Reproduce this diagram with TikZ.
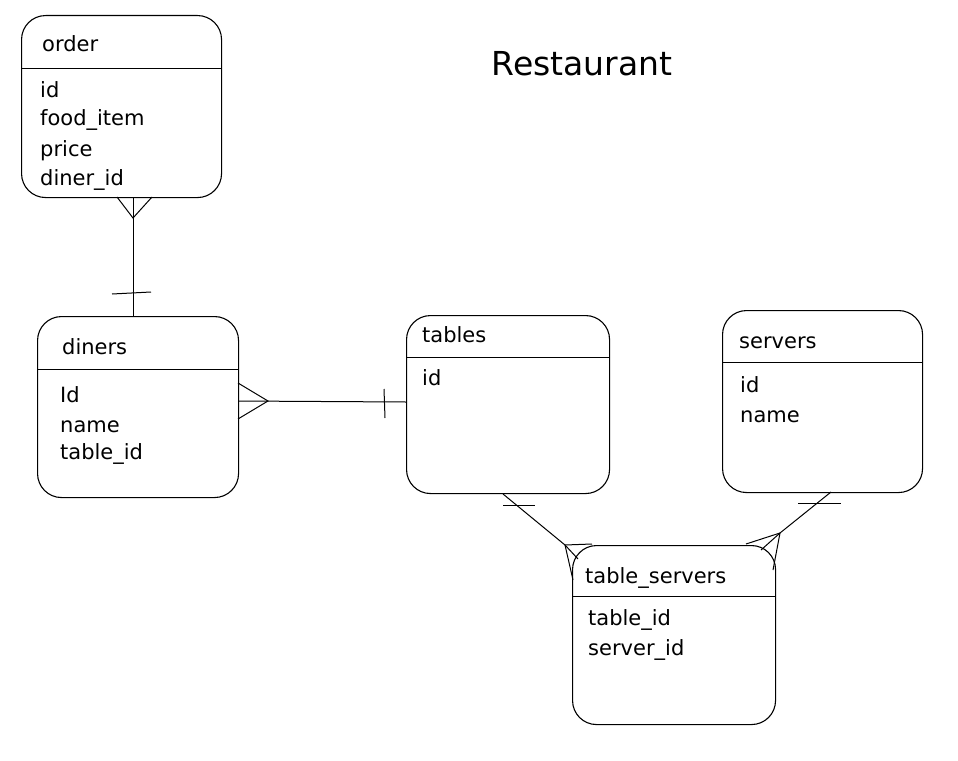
\documentclass[tikz,border=0pt]{standalone}
\usepackage{fontspec}
\setmainfont{DejaVu Sans}
\begin{document}
\begin{tikzpicture}[x=1pt,y=-1pt,
  ent/.style={draw,rounded corners=24pt,line width=1.1pt,anchor=north west,inner sep=0pt},
  lbl/.style={anchor=base west,inner sep=0pt,font=\fontsize{21}{21}\selectfont},
  conn/.style={line width=1pt}]
\useasboundingbox (0,0) rectangle (958,760);
% entities
\node[ent,minimum width=200pt,minimum height=182pt] (order) at (21,15) {};
\node[ent,minimum width=201pt,minimum height=181pt] (diners) at (37,316) {};
\node[ent,minimum width=203pt,minimum height=178pt] (tables) at (406,315) {};
\node[ent,minimum width=200pt,minimum height=182pt] (servers) at (722,310) {};
\node[ent,minimum width=203pt,minimum height=179pt] (ts) at (572,545) {};
% header lines
\draw[line width=1pt] (order.west |- 0,69) -- (order.east |- 0,69);
\draw[line width=1pt] (diners.west |- 0,369) -- (diners.east |- 0,369);
\draw[line width=1pt] (tables.west |- 0,357) -- (tables.east |- 0,357);
\draw[line width=1pt] (servers.west |- 0,362) -- (servers.east |- 0,362);
\draw[line width=1pt] (ts.west |- 0,596) -- (ts.east |- 0,596);
% texts
\node[lbl] (t1) at (42,52) {order};
\node[lbl] (t2) at (40,97) {id};
\node[lbl] (t3) at (40,125) {food\_item};
\node[lbl] (t4) at (40,156) {price};
\node[lbl] (t5) at (40,185) {diner\_id};
\node[lbl] (t6) at (62,354) {diners};
\node[lbl] (t7) at (60,402) {Id};
\node[lbl] (t8) at (60,432) {name};
\node[lbl] (t9) at (60,459) {table\_id};
\node[lbl] (t10) at (422,342) {tables};
\node[lbl] (t11) at (422,385) {id};
\node[lbl] (t12) at (739,348) {servers};
\node[lbl] (t13) at (740,392) {id};
\node[lbl] (t14) at (740,422) {name};
\node[lbl] (t15) at (585,583) {table\_servers};
\node[lbl] (t16) at (588,625) {table\_id};
\node[lbl] (t17) at (588,655) {server\_id};
\node[anchor=base,inner sep=0pt,font=\fontsize{33}{33}\selectfont] (title) at (582,75) {Restaurant};
% order - diners
\coordinate (a1) at (133,197);
\coordinate (a2) at (133,316);
\draw[conn] (a1) -- (a2);
\draw[conn] (117,197) -- (133,218) -- (152,197);
\draw[conn] (112,294) -- (151,292);
% diners - tables
\coordinate (b1) at (238,401);
\coordinate (b2) at (406,402);
\draw[conn] (b1) -- (b2);
\draw[conn] (238,383) -- (268,401) -- (238,419);
\draw[conn] (384,389) -- (385,418);
% tables - table_servers
\coordinate (c1) at (503,494);
\coordinate (c2) at (565,545);
\draw[conn] (c1) -- (c2) -- (578,559);
\draw[conn] (592,544) -- (c2) -- (573,580);
\draw[conn] (503,505) -- (535,505);
% servers - table_servers
\coordinate (d1) at (831,492);
\coordinate (d2) at (780,533);
\draw[conn] (d1) -- (d2) -- (761,550);
\draw[conn] (746,544) -- (d2) -- (773,570);
\draw[conn] (798,503) -- (841,503);
\end{tikzpicture}
\end{document}
